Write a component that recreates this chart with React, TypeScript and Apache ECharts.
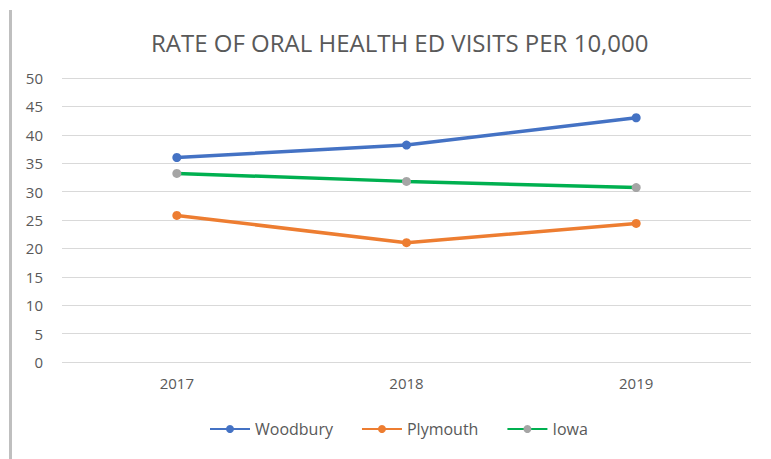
import React, { useEffect, useRef } from "react";
import * as echarts from "echarts";

const years = ["2017", "2018", "2019"];
const woodbury = [36.0, 38.2, 43.0];
const plymouth = [25.8, 21.0, 24.4];
const iowa = [33.2, 31.8, 30.7];
const yTicks = { min: 0, max: 50, interval: 5 };

const FONT = "'Open Sans', 'Liberation Sans', sans-serif";
const TXT = "#595959";

export default function App() {
  const ref = useRef<HTMLDivElement>(null);
  useEffect(() => {
    document.body.style.margin = "0";
    const chart = echarts.init(ref.current!, null, { renderer: "svg" });
    const mk = (name: string, data: number[], line: string, dot: string) => ({
      name,
      type: "line",
      data,
      symbol: "circle",
      symbolSize: 9,
      lineStyle: { color: line, width: 3.5 },
      itemStyle: { color: dot },
    });
    chart.setOption({
      animation: false,
      backgroundColor: "#ffffff",
      title: {
        text: "RATE OF ORAL HEALTH ED VISITS PER 10,000",
        left: 146,
        top: 25,
        textStyle: { fontFamily: FONT, fontSize: 24, fontWeight: "normal", color: TXT },
      },
      grid: { left: 62, right: 20, top: 78, bottom: 97, containLabel: false },
      xAxis: {
        type: "category",
        data: years,
        axisLine: { show: false },
        axisTick: { show: false },
        axisLabel: { fontFamily: FONT, fontSize: 15, color: TXT, margin: 13 },
      },
      yAxis: {
        type: "value",
        min: yTicks.min,
        max: yTicks.max,
        interval: yTicks.interval,
        axisLine: { show: false },
        axisTick: { show: false },
        axisLabel: { fontFamily: FONT, fontSize: 15, color: TXT, margin: 19 },
        splitLine: { lineStyle: { color: "#D9D9D9", width: 1 } },
      },
      legend: {
        bottom: 17,
        left: 204,
        itemWidth: 40,
        itemHeight: 10,
        itemGap: 28,
        textStyle: { fontFamily: FONT, fontSize: 16, color: TXT },
        data: ["Woodbury", "Plymouth", "Iowa"],
      },
      graphic: [
        {
          type: "rect",
          shape: { x: 9, y: 10, width: 3, height: 449 },
          style: { fill: "#BFBFBF" },
        },
      ],
      series: [
        mk("Woodbury", woodbury, "#4472C4", "#4472C4"),
        mk("Plymouth", plymouth, "#ED7D31", "#ED7D31"),
        mk("Iowa", iowa, "#00B050", "#A5A5A5"),
      ],
    });
    return () => chart.dispose();
  }, []);
  return <div ref={ref} style={{ width: 771, height: 459 }} />;
}
